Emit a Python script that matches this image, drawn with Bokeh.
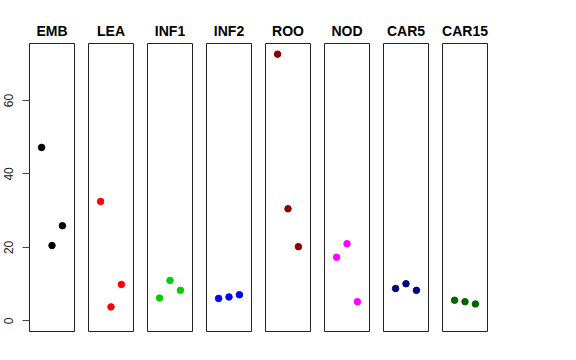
from bokeh.plotting import figure
from bokeh.layouts import row
from bokeh.models import Range1d, FixedTicker
from bokeh.embed import file_html
from bokeh.resources import INLINE

# ---- data ----
panels = ["EMB", "LEA", "INF1", "INF2", "ROO", "NOD", "CAR5", "CAR15"]
colors = ["#000000", "#FF0000", "#00CD00", "#0000FF", "#8B0000", "#FF00FF", "#000080", "#006400"]
positions = [1, 2, 3]
emb = [47.2, 20.5, 25.9]
lea = [32.5, 3.8, 9.9]
inf1 = [6.2, 11.0, 8.3]
inf2 = [6.1, 6.5, 7.1]
roo = [72.6, 30.5, 20.2]
nod = [17.3, 21.0, 5.2]
car5 = [8.8, 10.1, 8.3]
car15 = [5.6, 5.2, 4.6]
series = [emb, lea, inf1, inf2, roo, nod, car5, car15]
y_ticks = [0, 20, 40, 60]

ymax = max(max(s) for s in series)
ylo, yhi = -0.04 * ymax, 1.04 * ymax
xlo, xhi = 0 - 0.04 * 4, 4 + 0.04 * 4

figs = []
for i, (name, col, vals) in enumerate(zip(panels, colors, series)):
    first = i == 0
    p = figure(
        width=(81 if first else 59), height=336,
        x_range=Range1d(xlo, xhi), y_range=Range1d(ylo, yhi),
        output_backend="svg", toolbar_location=None,
        x_axis_location=None, y_axis_location=("left" if first else None),
        min_border_left=(29 if first else 7), min_border_right=7,
        min_border_top=43, min_border_bottom=5,
        title=name,
    )
    p.grid.visible = False
    p.outline_line_color = "#222222"
    p.outline_line_width = 1
    p.background_fill_color = "white"
    p.border_fill_color = "white"
    p.title.align = "center"
    p.title.text_font = "Liberation Sans"
    p.title.text_font_size = "14px"
    p.title.text_font_style = "bold"
    p.title.text_color = "#000000"
    if first:
        ax = p.yaxis[0]
        ax.ticker = FixedTicker(ticks=y_ticks)
        ax.axis_line_color = None
        ax.major_tick_in = 0
        ax.major_tick_out = 7
        ax.major_tick_line_color = "#444444"
        ax.minor_tick_line_color = None
        ax.major_label_orientation = "vertical"
        ax.major_label_text_font = "Liberation Sans"
        ax.major_label_text_font_size = "12px"
        ax.major_label_text_color = "#222222"
        ax.major_label_standoff = 9
    p.scatter(positions, vals, size=6.5, color=col, line_color=col)
    figs.append(p)

layout = row(figs, spacing=0)
open("out.html", "w").write(file_html(layout, INLINE))
